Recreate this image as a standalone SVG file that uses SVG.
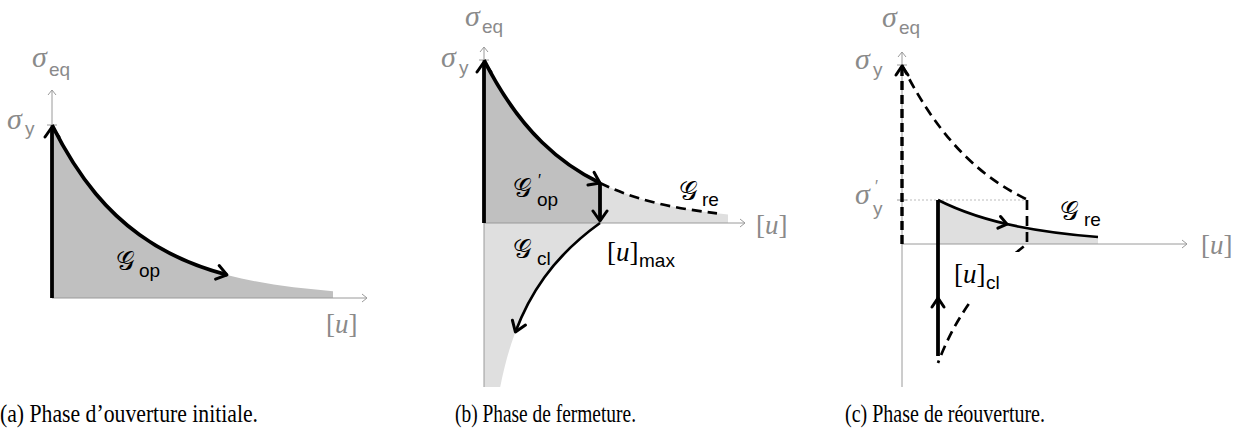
<svg xmlns="http://www.w3.org/2000/svg" width="1240" height="440" viewBox="0 0 1240 440">
<style>
.axis{stroke:#9a9a9a;stroke-width:1;fill:none}
.tick{stroke:#9a9a9a;stroke-width:1}
.dark{fill:#c0c0c0}
.light{fill:#dfdfdf}
.thick{stroke:#000;stroke-width:3.8;fill:none;stroke-linecap:butt}
.med{stroke:#000;stroke-width:2.7;fill:none}
.dash{stroke:#000;stroke-width:2.7;fill:none;stroke-dasharray:10 6}
.dashv{stroke:#000;stroke-width:3.4;fill:none;stroke-dasharray:9 5}
.chev{stroke:#000;stroke-width:3;fill:none;stroke-linecap:round;stroke-linejoin:round}
.ax{fill:#8a8a8a}
.lab{fill:#000}
.sig{font-family:"Liberation Serif","DejaVu Serif",serif;font-style:italic;font-size:30px}
.cal{font-family:"DejaVu Serif","Liberation Serif",serif;font-size:26px}
.sub{font-family:"Liberation Sans","DejaVu Sans",sans-serif;font-size:19px}
.pr{font-family:"Liberation Sans","DejaVu Sans",sans-serif;font-size:16px}
.br{font-family:"Liberation Serif","DejaVu Serif",serif;font-size:27px}
.it{font-style:italic}
.cap{font-family:"Liberation Serif","DejaVu Serif",serif;font-size:26px;fill:#000}
</style>
<defs>
<marker id="ah" markerUnits="userSpaceOnUse" viewBox="-13 -9 16 18" refX="0" refY="0" markerWidth="16" markerHeight="18" orient="auto">
<path d="M-10,-7 L0,0 L-10,7" stroke="#000" stroke-width="3" fill="none" stroke-linecap="round" stroke-linejoin="round"/>
</marker>
<marker id="aa" markerUnits="userSpaceOnUse" viewBox="-7 -5 9 10" refX="0" refY="0" markerWidth="9" markerHeight="10" orient="auto">
<path d="M-5,-4 L0,0 L-5,4" stroke="#9a9a9a" stroke-width="1" fill="none"/>
</marker>
</defs>

<g id="panel-a">
<path class="dark" d="M52,298 L52,125 C81.17,183.1 110.33,213.6 139.5,234.8 C168.67,256 197.83,267.1 227,274.9 C262.3,284.3 297.7,288.4 333,291.2 L333,298 Z"/>
<path class="axis" d="M52,298 L367,298" marker-end="url(#aa)"/>
<path class="axis" d="M52,298 L52,90" marker-end="url(#aa)"/>
<path class="tick" d="M47,125 L57,125"/>
<path class="thick" d="M52,298 L52,127" marker-end="url(#ah)"/>
<path class="thick" d="M52,125 C81.17,183.1 110.33,213.6 139.5,234.8 C168.67,256 197.83,267.1 227,274.9" marker-end="url(#ah)"/>
<text class="ax"><tspan class="sig" x="32" y="67">σ</tspan><tspan class="sub" x="49" y="76">eq</tspan></text>
<text class="ax"><tspan class="sig" x="7" y="129">σ</tspan><tspan class="sub" x="25" y="135">y</tspan></text>
<text class="ax br" x="326" y="333">[<tspan class="it">u</tspan>]</text>
<text class="lab"><tspan class="cal" x="116" y="270">𝒢</tspan><tspan class="sub" x="139" y="277">op</tspan></text>
</g>

<g id="panel-b">
<path class="dark" d="M484,223 L484,60 C503.33,98.2 522.67,123.35 542,142.25 C561.33,161.15 580.67,173.64 600,183 L600,223 Z"/>
<path class="light" d="M600,223 L600,183 C639,201.9 678,208.7 717,213.3 L728,214.5 L728,223 Z"/>
<path class="light" d="M484,223 L600,223 C574.7,241.2 557.45,259.3 544.3,277.5 C531.15,295.7 522.25,313.8 515.4,332 C508.5,350.3 503.8,368.7 500.2,387 L484,387 Z"/>
<path class="axis" d="M484,387 L484,47" marker-end="url(#aa)"/>
<path class="axis" d="M484,223 L745,223" marker-end="url(#aa)"/>
<path class="tick" d="M479,60 L489,60"/>
<path class="thick" d="M484,223 L484,62" marker-end="url(#ah)"/>
<path class="thick" d="M484,60 C503.33,98.2 522.67,123.35 542,142.25 C561.33,161.15 580.67,173.64 600,183" marker-end="url(#ah)"/>
<path class="dash" d="M600,183 C639,201.9 678,208.7 717,213.3"/>
<path class="thick" d="M600,184 L600,221" marker-end="url(#ah)"/>
<path class="med" d="M600,223 C574.7,241.2 557.45,259.3 544.3,277.5 C531.15,295.7 522.25,313.8 515.4,332" marker-end="url(#ah)"/>
<text class="ax"><tspan class="sig" x="465" y="26">σ</tspan><tspan class="sub" x="482" y="33">eq</tspan></text>
<text class="ax"><tspan class="sig" x="441" y="67">σ</tspan><tspan class="sub" x="459" y="74">y</tspan></text>
<text class="ax br" x="756" y="234">[<tspan class="it">u</tspan>]</text>
<text class="lab"><tspan class="cal" x="513" y="197">𝒢</tspan><tspan class="pr" x="538" y="186">′</tspan><tspan class="sub" x="537" y="206">op</tspan></text>
<text class="lab"><tspan class="cal" x="679" y="200">𝒢</tspan><tspan class="sub" x="702" y="206">re</tspan></text>
<text class="lab"><tspan class="cal" x="513" y="258">𝒢</tspan><tspan class="sub" x="537" y="265">cl</tspan></text>
<text class="lab"><tspan class="br" x="607" y="261">[<tspan class="it">u</tspan>]</tspan><tspan class="sub" x="639" y="267">max</tspan></text>
</g>

<g id="panel-c">
<path class="light" d="M938,244 L938,200 C964.67,213.48 991.33,221.07 1018,226.45 C1044.67,231.83 1071.33,234.85 1098,237 L1098,244 Z"/>
<path class="axis" d="M902,387 L902,52" marker-end="url(#aa)"/>
<path class="axis" d="M902,244 L1187,244" marker-end="url(#aa)"/>
<path class="tick" d="M897,65 L907,65"/>
<path class="tick" d="M897,200 L907,200"/>
<path d="M902,200 L1027,200" stroke="#aaa" stroke-width="0.8" stroke-dasharray="2 2"/>
<path class="dashv" d="M902,244 L902,66"/>
<path class="chev" d="M-9,-6 L0,0 L-9,6" transform="translate(902,66) rotate(-90)"/>
<path class="dash" d="M902,65 C922.83,106.87 943.67,134.55 964.5,155.3 C985.33,176.05 1006.17,189.2 1027,199.6"/>
<path class="dash" d="M1027,200 L1027,244 C1001.07,263.83 983.02,283.67 969.1,303.5 C955.18,323.33 945.47,343.17 938,363"/>
<path class="med" d="M938,200 C964.67,213.48 991.33,221.07 1018,226.45 C1044.67,231.83 1071.33,234.85 1098,237"/>
<path class="chev" d="M-8,-6 L0,0 L-8,6" stroke-width="2.4" transform="translate(1007,224.1) rotate(12.9)"/>
<path class="thick" d="M938,356 L938,200"/>
<path class="chev" d="M-9,-6 L0,0 L-9,6" transform="translate(938,298) rotate(-90)"/>
<rect x="948" y="252" width="74" height="48" fill="#fff"/>
<text class="ax"><tspan class="sig" x="882" y="27">σ</tspan><tspan class="sub" x="899" y="34">eq</tspan></text>
<text class="ax"><tspan class="sig" x="855" y="69">σ</tspan><tspan class="sub" x="873" y="76">y</tspan></text>
<text class="ax"><tspan class="sig" x="855" y="204">σ</tspan><tspan class="pr" x="875" y="192">′</tspan><tspan class="sub" x="873" y="215">y</tspan></text>
<text class="ax br" x="1201" y="254">[<tspan class="it">u</tspan>]</text>
<text class="lab"><tspan class="cal" x="1060" y="220">𝒢</tspan><tspan class="sub" x="1084" y="226">re</tspan></text>
<text class="lab"><tspan class="br" x="954" y="283">[<tspan class="it">u</tspan>]</tspan><tspan class="sub" x="986" y="289">cl</tspan></text>
</g>

<g id="captions">
<text class="cap" x="0" y="422" textLength="258" lengthAdjust="spacingAndGlyphs">(a) Phase d’ouverture initiale.</text>
<text class="cap" x="455" y="422" textLength="181" lengthAdjust="spacingAndGlyphs">(b) Phase de fermeture.</text>
<text class="cap" x="845" y="422" textLength="200" lengthAdjust="spacingAndGlyphs">(c) Phase de réouverture.</text>
</g>
</svg>
